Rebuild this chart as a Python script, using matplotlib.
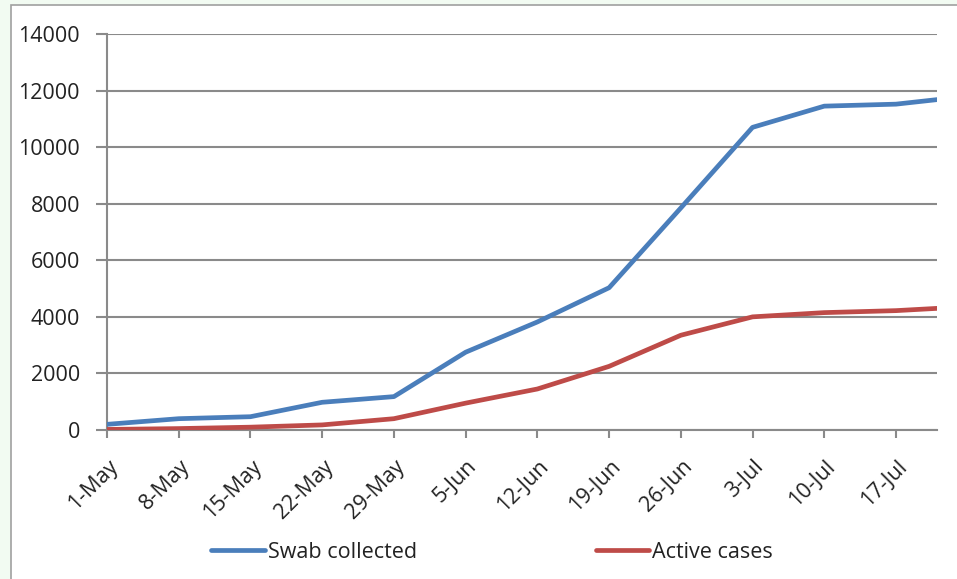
import datetime as dt
import matplotlib
matplotlib.use("Agg")
import matplotlib.pyplot as plt
from matplotlib.patches import Rectangle
from matplotlib.transforms import ScaledTranslation

# Weekly observations (last one on 21-Jul)
dates = [dt.date(2020, 5, 1), dt.date(2020, 5, 8), dt.date(2020, 5, 15), dt.date(2020, 5, 22),
         dt.date(2020, 5, 29), dt.date(2020, 6, 5), dt.date(2020, 6, 12), dt.date(2020, 6, 19),
         dt.date(2020, 6, 26), dt.date(2020, 7, 3), dt.date(2020, 7, 10), dt.date(2020, 7, 17),
         dt.date(2020, 7, 21)]
swab_collected = [200, 400, 470, 980, 1180, 2750, 3820, 5030, 7850, 10700, 11450, 11520, 11680]
active_cases = [20, 50, 100, 180, 400, 950, 1450, 2250, 3350, 4000, 4150, 4220, 4300]

tick_dates = [dt.date(2020, 5, 1) + dt.timedelta(days=7 * i) for i in range(12)]
tick_labels = [f"{d.day}-{d.strftime('%b')}" for d in tick_dates]
y_ticks = [0, 2000, 4000, 6000, 8000, 10000, 12000, 14000]

plt.rcParams['font.family'] = ['Open Sans', 'DejaVu Sans']

W, H = 957, 579
fig = plt.figure(figsize=(W / 100, H / 100), dpi=100, facecolor='#f2fbf2')

# white chart area with thin grey frame
fig.patches.append(Rectangle((11 / W, -0.1), 1.2, 1 - 5 / H + 0.1, transform=fig.transFigure,
                             facecolor='white', edgecolor='#a0a0a0', linewidth=1.2, zorder=-5))

ax = fig.add_axes([107 / W, 1 - 430 / H, (937 - 107) / W, (430 - 34) / H])
ax.set_facecolor('none')

blue = '#4a7ebb'
red = '#be4b48'
ax.plot(dates, swab_collected, color=blue, lw=3.4, label='Swab collected',
        solid_capstyle='round', solid_joinstyle='round', zorder=3)
ax.plot(dates, active_cases, color=red, lw=3.4, label='Active cases',
        solid_capstyle='round', solid_joinstyle='round', zorder=3)

ax.set_xlim(dt.date(2020, 5, 1), dt.date(2020, 7, 21))
ax.set_ylim(0, 14000)
ax.set_yticks(y_ticks)
ax.set_yticklabels([str(v) for v in y_ticks])
ax.set_xticks(tick_dates)
ax.set_xticklabels(tick_labels)

grid_c = '#8a8a8a'
ax.yaxis.grid(True, color=grid_c, lw=1.5)
ax.set_axisbelow(True)
for s in ['top', 'right']:
    ax.spines[s].set_visible(False)
for s in ['left', 'bottom']:
    ax.spines[s].set_color(grid_c)
    ax.spines[s].set_linewidth(1.5)

ax.tick_params(axis='y', length=8, width=1.5, color=grid_c, pad=11.5,
               labelsize=15.5, labelcolor='#222222')
ax.tick_params(axis='x', length=6, width=1.5, color=grid_c, pad=18,
               labelsize=15.5, labelcolor='#222222')
shift = ScaledTranslation(0.08, 0, fig.dpi_scale_trans)
for lab in ax.get_xticklabels():
    lab.set_rotation(45)
    lab.set_ha('right')
    lab.set_va('center')
    lab.set_rotation_mode('anchor')
    lab.set_transform(lab.get_transform() + shift)

leg = fig.legend(loc='center', bbox_to_anchor=(492 / W, 1 - 552 / H), ncol=2, frameon=False,
                 fontsize=15.5, handlelength=2.5, handletextpad=0.12, columnspacing=8.3,
                 labelcolor='#222222')

fig.savefig('out.png', dpi=100, facecolor=fig.get_facecolor())
